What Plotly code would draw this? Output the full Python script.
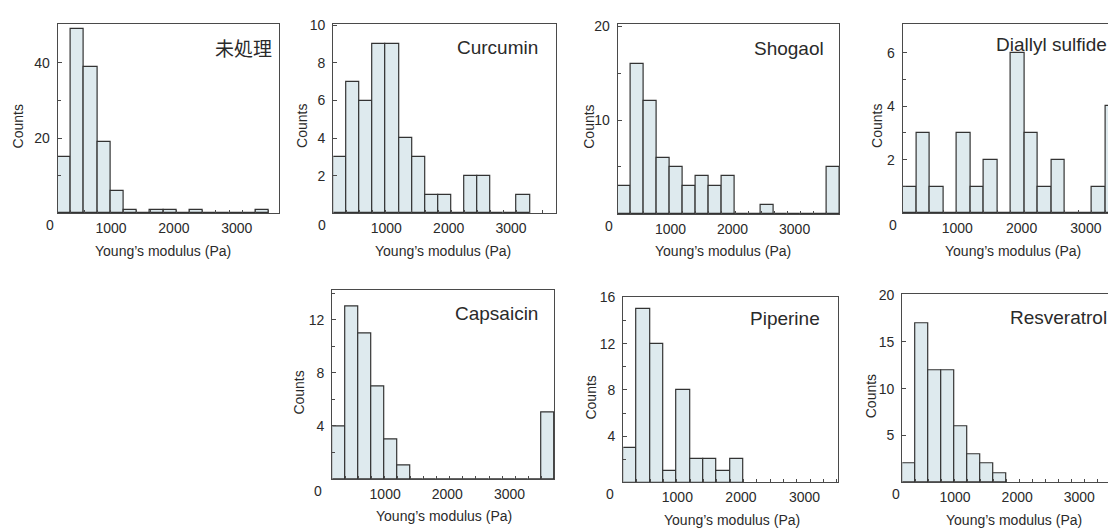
import plotly.graph_objects as go

# ---------------- data ----------------
bin_start = 150      # Pa, left edge of first bin
bin_width = 210      # Pa per bin

panel_names = ["未処理", "Curcumin", "Shogaol", "Diallyl sulfide",
               "Capsaicin", "Piperine", "Resveratrol"]

counts_untreated = [15, 49, 39, 19, 6, 1, 0, 1, 1, 0, 1, 0, 0, 0, 0, 1]
counts_curcumin = [3, 7, 6, 9, 9, 4, 3, 1, 1, 0, 2, 2, 0, 0, 1]
counts_shogaol = [3, 16, 12, 6, 5, 3, 4, 3, 4, 0, 0, 1, 0, 0, 0, 0, 5]
counts_diallyl = [1, 3, 1, 0, 3, 1, 2, 0, 6, 3, 1, 2, 0, 0, 1, 4]
counts_capsaicin = [4, 13, 11, 7, 3, 1, 0, 0, 0, 0, 0, 0, 0, 0, 0, 0, 5]
counts_piperine = [3, 15, 12, 1, 8, 2, 2, 1, 2]
counts_resveratrol = [2, 17, 12, 12, 6, 3, 2, 1]

x_tick_values = [1000, 2000, 3000]
x_tick_labels = ["1000", "2000", "3000"]

y_major_untreated = [20, 40]
y_minor_untreated = [10, 30]
y_major_curcumin = [2, 4, 6, 8, 10]
y_minor_curcumin = []
y_major_shogaol = [10, 20]
y_minor_shogaol = [5, 15]
y_major_diallyl = [2, 4, 6]
y_minor_diallyl = [1, 3, 5]
y_major_capsaicin = [4, 8, 12]
y_minor_capsaicin = [2, 6, 10, 14]
y_major_piperine = [4, 8, 12, 16]
y_minor_piperine = [2, 6, 10, 14]
y_major_resveratrol = [5, 10, 15, 20]
y_minor_resveratrol = []

all_counts = [counts_untreated, counts_curcumin, counts_shogaol, counts_diallyl,
              counts_capsaicin, counts_piperine, counts_resveratrol]
all_ymajor = [y_major_untreated, y_major_curcumin, y_major_shogaol, y_major_diallyl,
              y_major_capsaicin, y_major_piperine, y_major_resveratrol]
all_yminor = [y_minor_untreated, y_minor_curcumin, y_minor_shogaol, y_minor_diallyl,
              y_minor_capsaicin, y_minor_piperine, y_minor_resveratrol]

# ---------------- layout (page-pixel geometry) ----------------
PAGE_W, PAGE_H = 1116, 528
OFF = 8                      # default body margin of the html page
W, H = PAGE_W - OFF, PAGE_H - OFF


def fx(px):
    return (px - OFF) / W


def fy(py):
    return 1 - (py - OFF) / H


geom = [
    dict(x0=57.7, x1=279.3, yt=16.0, yb=208.3, xend=3678, yend=50.4,
         lx=274, ly=40, tx=163, cx=18, zx=49.5, mirror_y=True),
    dict(x0=333.3, x1=556.0, yt=16.0, yb=208.3, xend=3720, yend=10.08,
         lx=540, ly=40, tx=443, cx=302.5, zx=321.8, mirror_y=True),
    dict(x0=617.7, x1=839.3, yt=16.0, yb=209.0, xend=3720, yend=20.25,
         lx=826, ly=41, tx=723, cx=589, zx=609.3, mirror_y=True),
    dict(x0=902.7, x1=1116.0, yt=16.0, yb=208.3, xend=3468, yend=7.08,
         lx=1109, ly=37, tx=1013, cx=877.5, zx=892.5, mirror_y=False),
    dict(x0=332.3, x1=554.3, yt=286.7, yb=478.3, xend=3720, yend=14.2,
         lx=540, ly=310, tx=444, cx=299, zx=318.3, mirror_y=True),
    dict(x0=623.3, x1=838.3, yt=293.3, yb=481.7, xend=3531, yend=16.05,
         lx=822, ly=315, tx=732, cx=591, zx=610, mirror_y=True),
    dict(x0=902.3, x1=1116.0, yt=290.7, yb=481.7, xend=3591, yend=20.05,
         lx=1109, ly=314, tx=1014, cx=871, zx=896.3, mirror_y=False),
]

FILL = "#deeaee"
EDGE = "#333333"
FRAME = "#4a4a4a"
TXT = "#2a2a2a"
FONT = "Liberation Sans, Arial, sans-serif"

fig = go.Figure()
annotations = []
layout_axes = {}

for i, (name, counts, ymaj, ymin, g) in enumerate(
        zip(panel_names, all_counts, all_ymajor, all_yminor, geom)):
    n = i + 1
    xa = "x" if n == 1 else f"x{n}"
    ya = "y" if n == 1 else f"y{n}"
    centers = [bin_start + (k + 0.5) * bin_width for k in range(len(counts))]
    fig.add_trace(go.Bar(
        x=centers, y=counts, width=bin_width, xaxis=xa, yaxis=ya,
        marker=dict(color=FILL, line=dict(color=EDGE, width=1.2)),
        showlegend=False, hoverinfo="skip"))

    n_edges = int((g["xend"] - bin_start) / bin_width) + 1
    edges = [bin_start + k * bin_width for k in range(1, n_edges)]

    xkey = "xaxis" if n == 1 else f"xaxis{n}"
    ykey = "yaxis" if n == 1 else f"yaxis{n}"
    layout_axes[xkey] = dict(
        domain=[fx(g["x0"]), min(fx(g["x1"]), 1.0)],
        anchor=ya, range=[bin_start, g["xend"]],
        showgrid=False, zeroline=False,
        showline=True, linecolor=FRAME, linewidth=1.3, mirror=True,
        tickmode="array", tickvals=x_tick_values, ticktext=x_tick_labels,
        ticks="", ticklabelstandoff=2,
        tickfont=dict(family=FONT, size=14, color=TXT),
        minor=dict(tickmode="array", tickvals=edges, ticks="inside",
                   ticklen=3, tickcolor=FRAME, tickwidth=1, showgrid=False),
    )
    layout_axes[ykey] = dict(
        domain=[fy(g["yb"]), fy(g["yt"])],
        anchor=xa, range=[0, g["yend"]],
        showgrid=False, zeroline=False,
        showline=True, linecolor=FRAME, linewidth=1.3, mirror=g["mirror_y"],
        tickmode="array", tickvals=ymaj, ticktext=[str(v) for v in ymaj],
        ticks="inside", ticklen=4, tickcolor=FRAME, tickwidth=1,
        ticklabelstandoff=4,
        tickfont=dict(family=FONT, size=14, color=TXT),
        minor=dict(tickmode="array", tickvals=ymin, ticks="inside",
                   ticklen=3, tickcolor=FRAME, tickwidth=1, showgrid=False),
    )

    # panel label
    is_cjk = any(ord(c) > 0x3000 for c in name)
    annotations.append(dict(
        text=name, xref="paper", yref="paper",
        x=fx(g["lx"]), y=fy(g["ly"]), xanchor="right", yanchor="middle",
        showarrow=False,
        font=dict(family="Noto Sans CJK JP" if is_cjk else FONT,
                  size=19, color=TXT)))
    # x-axis title
    annotations.append(dict(
        text="Young’s modulus (Pa)", xref="paper", yref="paper",
        x=fx(g["tx"]), y=fy(g["yb"] + 38), xanchor="center",
        yanchor="middle", showarrow=False,
        font=dict(family=FONT, size=14, color=TXT)))
    # y-axis title
    annotations.append(dict(
        text="Counts", xref="paper", yref="paper", textangle=-90,
        x=fx(g["cx"]), y=fy((g["yt"] + g["yb"]) / 2 + 8),
        xanchor="center", yanchor="middle", showarrow=False,
        font=dict(family=FONT, size=14, color=TXT)))
    # corner zero label
    annotations.append(dict(
        text="0", xref="paper", yref="paper",
        x=fx(g["zx"]), y=fy(g["yb"] + 12),
        xanchor="center", yanchor="middle", showarrow=False,
        font=dict(family=FONT, size=14, color=TXT)))

fig.update_layout(
    width=W, height=H,
    margin=dict(l=0, r=0, t=0, b=0),
    paper_bgcolor="white", plot_bgcolor="white",
    bargap=0, showlegend=False,
    annotations=annotations,
    **layout_axes,
)

fig.write_html("out.html")
